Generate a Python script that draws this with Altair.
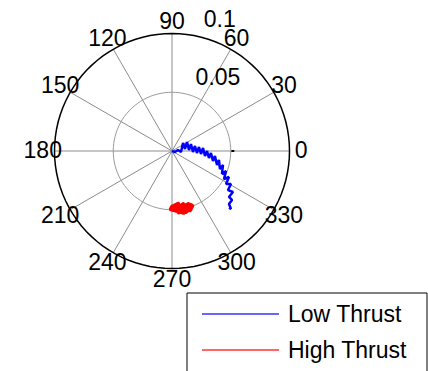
import altair as alt
import pandas as pd

# Low-thrust trajectory: polar angle (degrees) and radius
low_theta = [0.0, 341.6, 9.5, 353.7, 36.0, 8.7, 31.0, 3.4, 20.2, 357.3, 12.3, 355.4,
             8.4, 354.1, 5.5, 351.4, 0.0, 349.3, 357.1, 346.3, 353.4, 342.7, 349.2,
             339.4, 344.7, 335.3, 339.7, 331.7, 335.5, 328.6, 330.8, 325.1, 326.1,
             321.1, 320.8, 317.1, 315.5, 315.0]
low_rho = [0.0, 0.0027, 0.0052, 0.0077, 0.0116, 0.0112, 0.0149, 0.0145, 0.0172, 0.0179,
           0.0200, 0.0213, 0.0232, 0.0248, 0.0265, 0.0284, 0.0298, 0.0320, 0.0332,
           0.0359, 0.0368, 0.0401, 0.0407, 0.0436, 0.0450, 0.0468, 0.0490, 0.0503,
           0.0533, 0.0539, 0.0575, 0.0581, 0.0625, 0.0623, 0.0659, 0.0662, 0.0704,
           0.0686]

# High-thrust cluster: polar angle (degrees) and radius
high_theta = [270.0, 276.6, 273.8, 281.7, 278.4, 286.8, 282.7, 290.0, 286.7, 272.1,
              276.4, 283.1, 288.1, 280.8, 269.0, 275.0, 279.8, 284.5, 288.9, 277.9,
              274.2, 281.0, 285.6]
high_rho = [0.0477, 0.0455, 0.0505, 0.0465, 0.0518, 0.0475, 0.0530, 0.0498, 0.0525,
            0.0470, 0.0523, 0.0489, 0.0515, 0.0533, 0.0494, 0.0487, 0.0501, 0.0507,
            0.0485, 0.0472, 0.0490, 0.0488, 0.0478]

series_names = ["Low Thrust", "High Thrust"]
series_colors = ["#0000ff", "#ff0000"]

angle_ticks = list(range(0, 360, 30))
rho_ticks = [0.05, 0.1]
RMAX = 0.1

# canvas and placement of the polar axes
W, H = 428, 371
CX, CY = 172, 151
R_PX = 117.5
k = RMAX / R_PX
xs = alt.Scale(domain=[-CX * k, (W - CX) * k], nice=False, zero=False)
ys = alt.Scale(domain=[-(H - CY) * k, CY * k], nice=False, zero=False)
X = lambda f: alt.X(f, type="quantitative", scale=xs, axis=None)
Y = lambda f: alt.Y(f, type="quantitative", scale=ys, axis=None)
FONT = "Liberation Sans"
FS = 23

# trajectories
rows = []
for name, th, rh in [("Low Thrust", low_theta, low_rho), ("High Thrust", high_theta, high_rho)]:
    for i, (t, r) in enumerate(zip(th, rh)):
        rows.append({"series": name, "order": i, "theta": t, "rho": r})
traj = pd.DataFrame(rows)

# range rings (inner grid ring, outer black boundary)
ring_rows = []
for ring, kind in [(rho_ticks[0], "grid"), (RMAX, "edge")]:
    for j in range(101):
        ring_rows.append({"kind": kind, "order": j, "theta": j * 3.6, "rho": ring})
rings = pd.DataFrame(ring_rows)

spokes = pd.DataFrame({"theta": [a for a in angle_ticks if a < 180]})
angle_lbl = pd.DataFrame({"theta": angle_ticks, "label": [str(a) for a in angle_ticks]})
rho_lbl = pd.DataFrame({"rho": rho_ticks, "label": ["0.05", "0.1"]})
marker = pd.DataFrame({"r0": [0.0505], "r1": [0.053], "z": [0.0]})

polar_xy = dict(x="datum.rho * cos(datum.theta * PI / 180)",
                y="datum.rho * sin(datum.theta * PI / 180)")

spoke_layer = alt.Chart(spokes).transform_calculate(
    x=f"-{RMAX} * cos(datum.theta * PI / 180)",
    y=f"-{RMAX} * sin(datum.theta * PI / 180)",
    x2=f"{RMAX} * cos(datum.theta * PI / 180)",
    y2=f"{RMAX} * sin(datum.theta * PI / 180)",
).mark_rule(color="#8c8c8c", strokeWidth=1).encode(
    x=X("x"), y=Y("y"), x2="x2:Q", y2="y2:Q")

grid_ring = alt.Chart(rings).transform_filter("datum.kind == 'grid'").transform_calculate(
    **polar_xy).mark_line(color="#9a9a9a", strokeWidth=1).encode(
    x=X("x"), y=Y("y"), order="order:Q")

edge_ring = alt.Chart(rings).transform_filter("datum.kind == 'edge'").transform_calculate(
    **polar_xy).mark_line(color="black", strokeWidth=1.5).encode(
    x=X("x"), y=Y("y"), order="order:Q")

marker_layer = alt.Chart(marker).mark_rule(color="black", strokeWidth=2).encode(
    x=X("r0"), x2="r1:Q", y=Y("z"))

angle_layer = alt.Chart(angle_lbl).transform_calculate(
    x=f"{1.1 * RMAX} * cos(datum.theta * PI / 180)",
    y=f"{1.1 * RMAX} * sin(datum.theta * PI / 180)",
).mark_text(font=FONT, fontSize=FS, color="black",
            align="center", baseline="middle").encode(
    x=X("x"), y=Y("y"), text="label:N")

rho_layer = alt.Chart(rho_lbl).transform_calculate(
    x=f"(datum.rho + {RMAX / 40}) * cos(82 * PI / 180)",
    y=f"(datum.rho + {RMAX / 40}) * sin(82 * PI / 180)",
).mark_text(font=FONT, fontSize=FS, color="black",
            align="left", baseline="bottom", dx=15).encode(
    x=X("x"), y=Y("y"), text="label:N")

traj_base = alt.Chart(traj).transform_calculate(**polar_xy)
color = alt.Color("series:N",
                  scale=alt.Scale(domain=series_names, range=series_colors),
                  legend=None)
low_layer = traj_base.transform_filter("datum.series == 'Low Thrust'").mark_line(
    strokeWidth=2.5, strokeJoin="bevel").encode(
    x=X("x"), y=Y("y"), order="order:Q", color=color)
high_layer = traj_base.transform_filter("datum.series == 'High Thrust'").mark_line(
    strokeWidth=4.5, strokeJoin="round", strokeCap="round").encode(
    x=X("x"), y=Y("y"), order="order:Q", color=color)

# legend box with one line sample and label per series
legend_df = pd.DataFrame({"series": series_names})
legend_layers = [
    alt.Chart(legend_df).transform_filter("datum.series == 'Low Thrust'").mark_rect(
        fill="white", stroke="black", strokeWidth=1).encode(
        x=alt.value(187), x2=alt.value(427), y=alt.value(293), y2=alt.value(400))
]
for i, (name, col) in enumerate(zip(series_names, series_colors)):
    yy = 314 + 36 * i
    sel = alt.Chart(legend_df).transform_filter(f"datum.series == '{name}'")
    legend_layers.append(sel.mark_rule(color=col, strokeWidth=1.3, opacity=0.8).encode(
        x=alt.value(202), x2=alt.value(279), y=alt.value(yy)))
    legend_layers.append(sel.mark_text(font=FONT, fontSize=FS, color="black",
                                       align="left", baseline="middle").encode(
        x=alt.value(288), y=alt.value(yy + 1), text="series:N"))

chart = alt.layer(
    spoke_layer, grid_ring, edge_ring, marker_layer, angle_layer, rho_layer,
    low_layer, high_layer, *legend_layers,
).properties(
    width=W, height=H, padding=0, autosize=alt.AutoSizeParams(type="none"),
    background="white",
).configure_view(stroke=None)

chart.save("out.html", embed_options={"renderer": "svg", "actions": False})
